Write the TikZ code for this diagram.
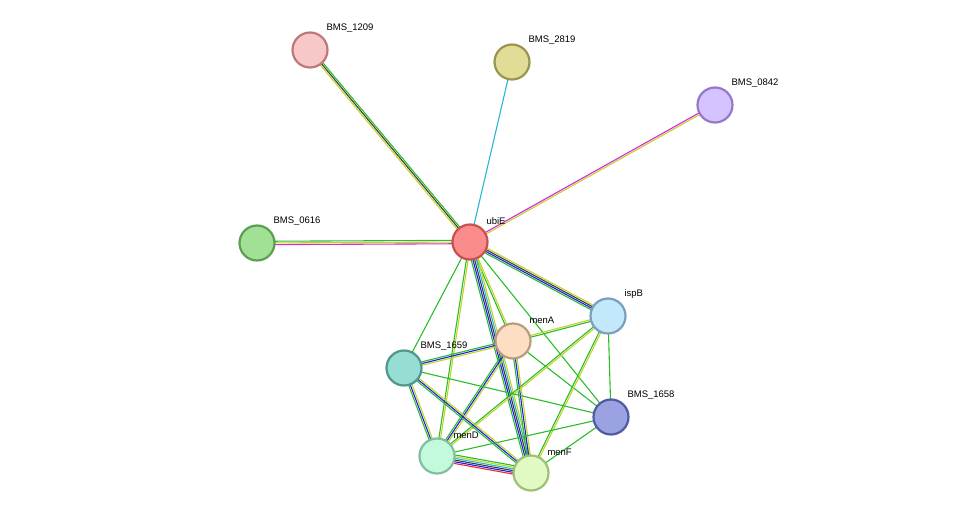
\documentclass[tikz,border=0pt]{standalone}
\usepackage{fontspec}
\setmainfont{Liberation Sans}
\usetikzlibrary{calc, backgrounds}
\definecolor{stgreen}{RGB}{40,190,40}
\definecolor{styellow}{RGB}{195,210,40}
\definecolor{stdark}{RGB}{60,60,60}
\definecolor{stblue}{RGB}{30,30,230}
\definecolor{stcyan}{RGB}{40,180,215}
\definecolor{stmagenta}{RGB}{215,40,215}
\definecolor{stred}{RGB}{240,40,40}
% node fills / borders
\definecolor{f1209}{RGB}{248,200,200}\definecolor{d1209}{RGB}{190,120,120}
\definecolor{f2819}{RGB}{225,220,150}\definecolor{d2819}{RGB}{150,150,80}
\definecolor{f0842}{RGB}{212,195,255}\definecolor{d0842}{RGB}{150,120,200}
\definecolor{f0616}{RGB}{160,225,150}\definecolor{d0616}{RGB}{90,160,80}
\definecolor{fubiE}{RGB}{250,140,140}\definecolor{dubiE}{RGB}{200,80,80}
\definecolor{fispB}{RGB}{195,232,252}\definecolor{dispB}{RGB}{120,160,190}
\definecolor{fmenA}{RGB}{253,222,195}\definecolor{dmenA}{RGB}{185,155,125}
\definecolor{f1659}{RGB}{150,222,212}\definecolor{d1659}{RGB}{80,150,140}
\definecolor{f1658}{RGB}{155,162,225}\definecolor{d1658}{RGB}{80,90,160}
\definecolor{fmenD}{RGB}{195,250,220}\definecolor{dmenD}{RGB}{130,190,160}
\definecolor{fmenF}{RGB}{225,250,195}\definecolor{dmenF}{RGB}{160,190,120}
\tikzset{
  prot/.style n args={3}{draw=#2, fill=#1, circle, line width=2.2pt, minimum size=35pt, inner sep=0pt,
    label={[anchor=south west, inner sep=0pt, xshift=7pt, yshift=1pt, font=\fontsize{9.5}{11}\selectfont]60:#3}},
  bondline/.style={line width=1.1pt}
}
% parallel coloured lines between two named nodes
\newcommand\bond[4]{%
  \foreach \c [count=\k] in {#4}{
    \draw[bondline, \c] ($(#1.center)!{(\k-(#3+1)/2)*1.7pt}!90:(#2.center)$) -- ($(#2.center)!{(\k-(#3+1)/2)*1.7pt}!-90:(#1.center)$);
  }}
\begin{document}
\begin{tikzpicture}[x=1pt, y=-1pt]
  \useasboundingbox (0,0) rectangle (976,518);
  % proteins
  \node[prot={f1209}{d1209}{BMS\_1209}] (b1209) at (310,50) {};
  \node[prot={f2819}{d2819}{BMS\_2819}] (b2819) at (512,62) {};
  \node[prot={f0842}{d0842}{BMS\_0842}] (b0842) at (715,105) {};
  \node[prot={f0616}{d0616}{BMS\_0616}] (b0616) at (257,243) {};
  \node[prot={fubiE}{dubiE}{ubiE}] (ubiE) at (470,242) {};
  \node[prot={fispB}{dispB}{ispB}] (ispB) at (608,316) {};
  \node[prot={fmenA}{dmenA}{menA}] (menA) at (513,341) {};
  \node[prot={f1659}{d1659}{BMS\_1659}] (b1659) at (404,368) {};
  \node[prot={f1658}{d1658}{BMS\_1658}] (b1658) at (611,417) {};
  \node[prot={fmenD}{dmenD}{menD}] (menD) at (437,456) {};
  \node[prot={fmenF}{dmenF}{menF}] (menF) at (531,473) {};
  % interactions
  \begin{scope}[on background layer]
    \bond{ubiE}{b1209}{3}{stgreen,stdark,styellow}
    \bond{ubiE}{b2819}{1}{stcyan}
    \bond{ubiE}{b0842}{2}{styellow,stmagenta}
    \bond{ubiE}{b0616}{3}{stgreen,styellow,stmagenta}
    \bond{ubiE}{ispB}{4}{stgreen,stblue,stdark,styellow}
    \bond{ubiE}{menA}{2}{stgreen,styellow}
    \bond{ubiE}{menF}{5}{stgreen,stblue,stdark,stcyan,styellow}
    \bond{ubiE}{b1659}{1}{stgreen}
    \bond{ubiE}{menD}{2}{stgreen,styellow}
    \bond{ubiE}{b1658}{1}{stgreen}
    \bond{menA}{ispB}{2}{stgreen,styellow}
    \bond{menA}{b1659}{3}{stgreen,stblue,styellow}
    \bond{menA}{menD}{3}{stgreen,stblue,styellow}
    \bond{menA}{menF}{3}{stgreen,stblue,styellow}
    \bond{menA}{b1658}{1}{stgreen}
    \bond{ispB}{menD}{2}{stgreen,styellow}
    \bond{ispB}{menF}{2}{stgreen,styellow}
    \bond{ispB}{b1658}{1}{stgreen}
    \bond{b1659}{menD}{3}{stgreen,stblue,styellow}
    \bond{b1659}{menF}{3}{stgreen,stblue,styellow}
    \bond{b1659}{b1658}{1}{stgreen}
    \bond{menD}{menF}{6}{stred,stblue,stdark,stcyan,styellow,stgreen}
    \bond{menD}{b1658}{1}{stgreen}
    \bond{menF}{b1658}{1}{stgreen}
  \end{scope}
\end{tikzpicture}
\end{document}
